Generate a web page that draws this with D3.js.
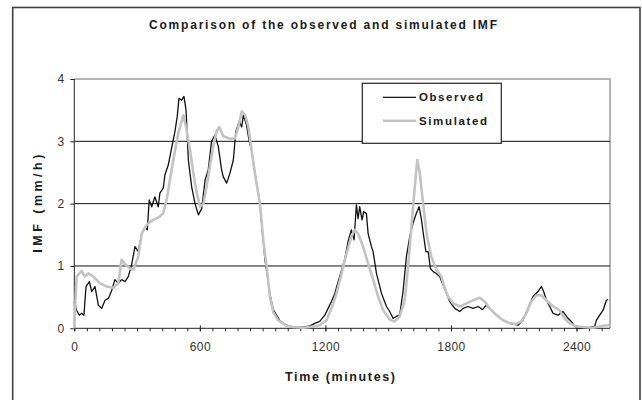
<!DOCTYPE html>
<html><head><meta charset="utf-8">
<script src="https://cdn.jsdelivr.net/npm/d3@7"></script>
<style>
body{margin:0;background:#fff}
svg{display:block}
text{font-family:"Liberation Sans",Arial,sans-serif}
</style>
</head><body>
<svg id="c" width="642" height="400"></svg>
<script>
const obsTime = [0,11,24,35,46,56,72,83,99,115,131,147,163,179,194,210,226,242,258,274,290,306,322,338,349,358,370,385,401,409,425,433,449,465,481,492,500,513,524,534,545,561,577,593,609,625,640,656,672,688,704,712,728,744,760,772,788,800,808,823,836,847,863,887,911,935,951,983,1014,1046,1094,1126,1149,1173,1197,1213,1229,1245,1256,1268,1292,1308,1324,1337,1348,1356,1364,1375,1383,1396,1404,1420,1428,1444,1468,1492,1507,1523,1539,1555,1571,1587,1603,1619,1635,1648,1659,1670,1680,1691,1702,1715,1730,1746,1762,1794,1818,1842,1858,1882,1906,1930,1950,1969,1993,2025,2057,2089,2120,2144,2168,2192,2216,2232,2243,2256,2272,2288,2311,2335,2359,2375,2391,2415,2455,2487,2495,2511,2527,2543,2551];
const obsValue = [0.42,0.29,0.21,0.24,0.21,0.67,0.75,0.59,0.67,0.37,0.32,0.45,0.48,0.61,0.78,0.72,0.78,0.75,0.83,1.02,1.31,1.23,1.52,1.62,1.58,2.06,1.95,2.11,1.95,2.17,2.25,2.46,2.62,2.89,3.16,3.40,3.69,3.66,3.72,3.50,2.70,2.27,2.0,1.82,1.92,2.38,2.54,3.0,3.10,2.92,2.54,2.43,2.33,2.49,2.70,3.16,3.32,3.23,3.42,3.26,3.0,2.86,2.5,2.0,1.1,0.55,0.3,0.12,0.05,0.02,0.02,0.04,0.08,0.11,0.21,0.32,0.43,0.56,0.69,0.83,1.10,1.39,1.58,1.42,1.98,1.76,1.95,1.74,1.87,1.84,1.52,1.31,1.23,0.88,0.56,0.35,0.27,0.16,0.19,0.21,0.59,1.15,1.47,1.69,1.85,1.95,1.74,1.47,1.23,1.23,0.96,0.91,0.88,0.83,0.70,0.43,0.32,0.27,0.32,0.35,0.32,0.35,0.30,0.37,0.29,0.19,0.11,0.07,0.05,0.13,0.32,0.51,0.59,0.67,0.59,0.45,0.35,0.24,0.21,0.27,0.16,0.11,0.03,0.0,0.01,0.03,0.13,0.21,0.29,0.45,0.46];
const simTime = [0,11,35,51,67,91,123,155,186,210,226,242,266,282,306,322,346,377,409,425,441,457,473,497,521,534,553,569,585,601,617,632,648,664,680,693,712,744,768,784,800,816,832,847,863,887,903,919,935,951,974,1014,1046,1094,1141,1173,1205,1229,1253,1277,1301,1324,1340,1356,1380,1404,1428,1452,1476,1507,1531,1555,1579,1595,1611,1627,1639,1651,1667,1683,1706,1730,1754,1770,1786,1810,1842,1874,1906,1937,1961,1985,2017,2049,2081,2112,2136,2160,2184,2208,2232,2256,2288,2319,2343,2367,2399,2431,2479,2527,2556];
const simValue = [0.0,0.83,0.92,0.83,0.88,0.83,0.72,0.67,0.65,0.72,1.10,1.03,0.96,0.94,1.15,1.52,1.66,1.74,1.79,1.85,2.06,2.38,2.70,3.13,3.42,3.23,2.86,2.49,2.17,1.95,2.0,2.27,2.6,2.92,3.16,3.23,3.08,3.04,3.05,3.23,3.48,3.42,3.23,2.86,2.49,2.0,1.42,0.99,0.50,0.26,0.13,0.04,0.02,0.01,0.03,0.05,0.13,0.32,0.56,0.88,1.20,1.47,1.58,1.52,1.31,1.04,0.78,0.51,0.29,0.14,0.11,0.19,0.45,0.99,1.63,2.27,2.70,2.49,2.0,1.52,1.15,0.94,0.83,0.65,0.51,0.40,0.35,0.40,0.45,0.49,0.43,0.32,0.21,0.13,0.08,0.07,0.11,0.24,0.43,0.53,0.53,0.45,0.35,0.29,0.16,0.08,0.03,0.02,0.01,0.04,0.05];
const xTickLabels = [0,600,1200,1800,2400];
const yTickLabels = [0,1,2,3,4];
const seriesNames = ["Observed","Simulated"];
const titleText = "Comparison of the observed and simulated IMF";
const xTitle = "Time (minutes)";
const yTitle = "IMF (mm/h)";

const svg = d3.select("#c");
const L = 74.3, R = 610, T = 79, B = 328.3;
const x = d3.scaleLinear().domain([0,2560]).range([L,R]);
const y = d3.scaleLinear().domain([0,4]).range([B,T]);

// outer frame
svg.append("rect").attr("x",12.7).attr("y",7.5).attr("width",627.3).attr("height",400)
  .attr("fill","#fff").attr("stroke","#404040").attr("stroke-width",1.6);

// title
svg.append("text").attr("x",323).attr("y",29).attr("text-anchor","middle")
  .attr("font-size",12).attr("font-weight","bold").attr("fill","#1a1a1a")
  .attr("textLength",348).attr("lengthAdjust","spacing").text(titleText);

// plot border top/right
svg.append("path").attr("d",`M${L},${T}H${R}V${B}`).attr("fill","none")
  .attr("stroke","#9a9a9a").attr("stroke-width",1.5);

// gridlines
svg.append("g").selectAll("line").data(yTickLabels.filter(v=>v>0&&v<4)).join("line")
  .attr("x1",L).attr("x2",R).attr("y1",d=>y(d)).attr("y2",d=>y(d))
  .attr("stroke","#111").attr("stroke-width",1);

// x minor ticks
const xAxisMinor = d3.axisBottom(x).tickValues(d3.range(0,2561,60)).tickSize(3).tickFormat("");
const gxm = svg.append("g").attr("transform",`translate(0,${B})`).call(xAxisMinor);
gxm.select(".domain").remove();
gxm.selectAll("line").attr("stroke","#222");

// x major ticks + labels
const xAxis = d3.axisBottom(x).tickValues(xTickLabels).tickSize(3).tickPadding(11).tickFormat(d3.format("d"));
const gx = svg.append("g").attr("transform",`translate(0,${B})`).call(xAxis);
gx.select(".domain").attr("stroke","#222").attr("d",`M${L},0H${R}`);
gx.selectAll(".tick line").attr("y1",-3).attr("y2",3).attr("stroke","#222");
gx.selectAll("text").attr("font-size",12).attr("fill","#333").attr("letter-spacing","0.4px")
  .attr("font-family","Liberation Sans, Arial, sans-serif");

// y axis
const yAxis = d3.axisLeft(y).tickValues(yTickLabels).tickSize(4).tickPadding(6).tickFormat(d3.format("d"));
const gy = svg.append("g").attr("transform",`translate(${L},0)`).call(yAxis);
gy.select(".domain").attr("stroke","#222").attr("d",`M0,${B}V${T}`);
gy.selectAll(".tick line").attr("stroke","#222");
gy.selectAll("text").attr("font-size",12).attr("fill","#333")
  .attr("font-family","Liberation Sans, Arial, sans-serif");

// series
const obs = obsTime.map((t,i)=>[t,obsValue[i]]);
const sim = simTime.map((t,i)=>[t,simValue[i]]);
const line = d3.line().x(d=>x(d[0])).y(d=>y(d[1]));
svg.append("path").datum(obs).attr("d",line).attr("fill","none")
  .attr("stroke","#111").attr("stroke-width",1.3).attr("stroke-linejoin","round");
svg.append("path").datum(sim).attr("d",line).attr("fill","none")
  .attr("stroke","#c3c3c3").attr("stroke-width",2.6).attr("stroke-linejoin","round");

// axis titles
svg.append("text").attr("x",340).attr("y",381).attr("text-anchor","middle")
  .attr("font-size",12.5).attr("font-weight","bold").attr("fill","#1a1a1a")
  .attr("textLength",110).attr("lengthAdjust","spacing").text(xTitle);
svg.append("text").attr("transform",`translate(41.5,${(T+B)/2}) rotate(-90)`).attr("text-anchor","middle")
  .attr("font-size",12.5).attr("font-weight","bold").attr("fill","#1a1a1a")
  .attr("textLength",98).attr("lengthAdjust","spacing").text(yTitle);

// legend
const lg = svg.append("g");
lg.append("rect").attr("x",362.3).attr("y",83.3).attr("width",139).attr("height",60)
  .attr("fill","#fff").attr("stroke","#222").attr("stroke-width",1.2);
const legColors = ["#111","#c3c3c3"], legWidths=[1.3,2.6], legY=[97.3,120.7], legLen=[64,68];
seriesNames.forEach((n,i)=>{
  lg.append("line").attr("x1",383).attr("x2",416).attr("y1",legY[i]).attr("y2",legY[i])
    .attr("stroke",legColors[i]).attr("stroke-width",legWidths[i]);
  lg.append("text").attr("x",419).attr("y",legY[i]+4).attr("font-size",11.5).attr("font-weight","bold")
    .attr("fill","#1a1a1a").attr("textLength",legLen[i]).attr("lengthAdjust","spacing").text(n);
});
</script>
</body></html>
